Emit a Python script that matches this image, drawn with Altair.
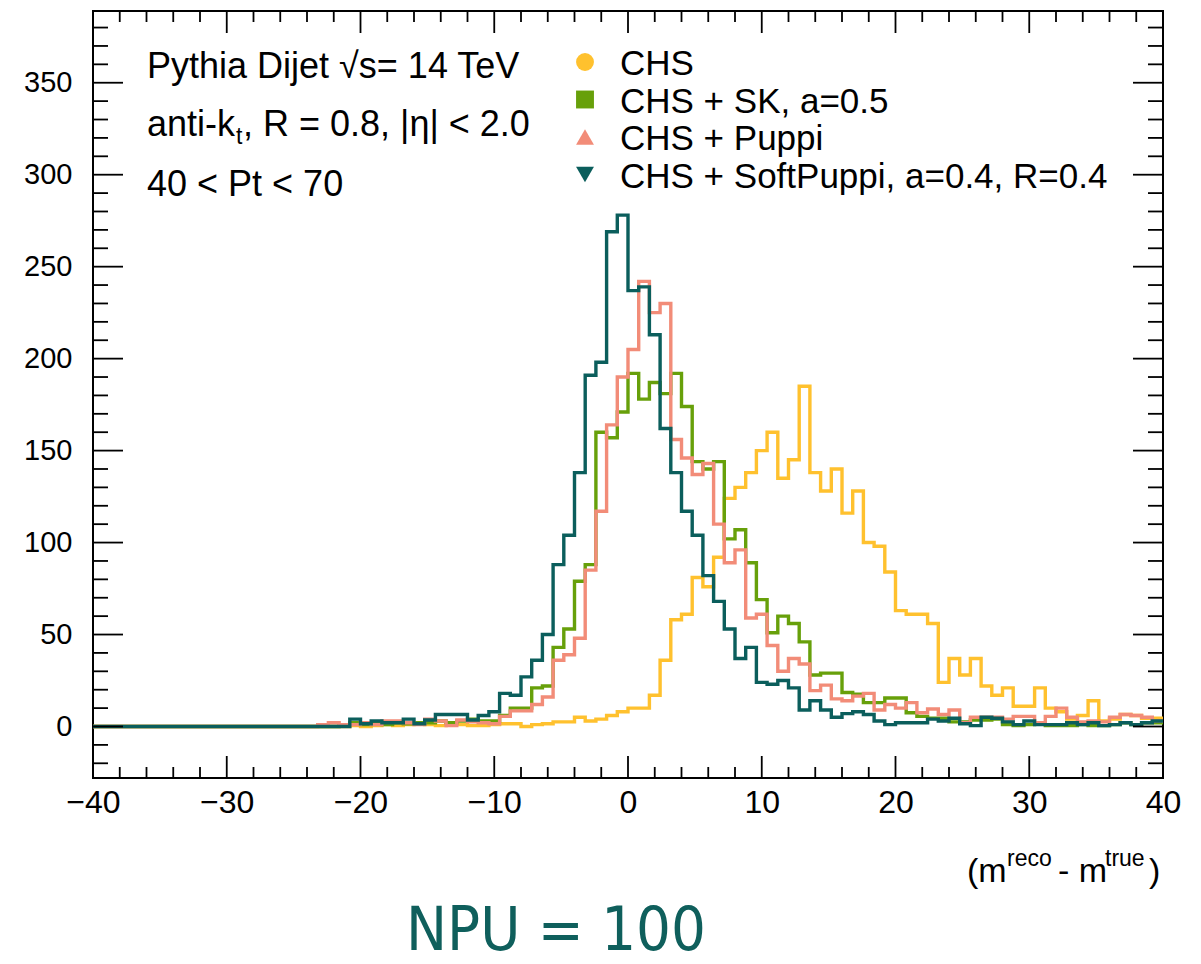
import altair as alt
import pandas as pd

# ---------------- data ----------------
X_MIN, X_MAX = -40.0, 40.0
BIN_WIDTH = 0.8
Y_MIN, Y_MAX = -28, 389

SERIES = ["CHS", "CHS + SK, a=0.5", "CHS + Puppi", "CHS + SoftPuppi, a=0.4, R=0.4"]
COLORS = ["#FFC12E", "#67A00A", "#F28C78", "#0B5E5C"]
SHAPES = ["circle", "square", "triangle-up", "triangle-down"]

CHS = [0, 0, 0, 0, 0, 0, 0, 0, 0, 0, 0, 0, 0, 0, 0, 0, 0, 0, 0, 0,
       0, 0, 0, 0, 0.5, 0, 0.5, 1, 0.5, 1, 1.5, 1, 0.5, 1, 1, 0.5, 0.5, 1, 1.5, 1.5,
       0, 1, 1.5, 2.5, 2.5, 5, 3, 4, 6, 8, 10, 10, 17, 36, 58, 61, 81, 76, 92, 124,
       130, 138, 150, 160, 135, 145, 185, 138, 128, 140, 116, 128, 100, 98, 84, 63, 61, 61, 56, 24,
       37, 28, 37, 22, 17, 21, 11, 11, 21, 10, 8, 4, 6, 14, 3, 4, 6.5, 6, 4.5, 4.5]

SK = [0, 0, 0, 0, 0, 0, 0, 0, 0, 0, 0, 0, 0, 0, 0, 0, 0, 0, 0, 0,
      0, 0, 0, 1, 2, 1, 1.5, 1, 2, 1.5, 2, 2, 3, 2, 3, 4, 3, 3, 6, 10,
      10, 21, 22, 43, 53, 79, 88, 160, 157, 171, 192, 178, 187, 181, 192, 174, 144, 140, 144, 102,
      107, 89, 69, 51, 60, 56, 46, 28, 29, 29, 18.5, 17.5, 13, 13, 15.5, 15.5, 7.5, 5.5, 4.5, 4.5,
      2.5, 2.5, 3.5, 3.5, 4, 1, 0.5, 1, 1.5, 0.5, 0.5, 0.5, 1, 0.5, 0.5, 1, 2, 1, 2, 2]

PUPPI = [0, 0, 0, 0, 0, 0, 0, 0, 0, 0, 0, 0, 0, 0, 0, 0, 0, 0, 0, 0,
         0, 1, 2, 1, 1, 2, 1, 3, 3, 2, 1, 4, 3, 0.5, 3.5, 2.5, 2, 1.5, 5.5, 8.5,
         8.5, 12, 16, 36, 39, 48, 85, 117, 164, 190, 205, 242, 225, 230, 156, 146, 137, 143, 110, 89,
         96, 59, 61, 44, 30, 37, 34, 19.5, 22.5, 15, 14, 16.5, 18, 9, 12, 10, 13, 7.5, 9.5, 6.5,
         9, 2, 5, 5, 5, 4, 5.5, 5.5, 2, 5.5, 10, 5, 2.5, 3, 2.5, 5, 6.5, 6, 5, 3]

SOFTPUPPI = [0, 0, 0, 0, 0, 0, 0, 0, 0, 0, 0, 0, 0, 0, 0, 0, 0, 0, 0, 0,
             0, 0, 0, 0, 4, 1.5, 3, 2, 2, 4, 1.5, 3.5, 6.5, 6.5, 6.5, 3.5, 6, 8, 18, 17,
             27, 36, 50, 88, 104, 138, 191, 198, 269, 278, 237, 239, 213, 162, 138, 117, 104, 82, 68, 53,
             37, 43, 24, 23, 25, 21, 9, 14, 9, 5, 7, 8, 6.5, 3, 1, 2, 2, 2, 4, 3,
             4.5, 1.5, 0.5, 5, 4.5, 2.5, 1, 3, 1, 1, 1, 2, 1, 2, 0.5, 1, 2, 1, 2, 3]

VALUES = [CHS, SK, PUPPI, SOFTPUPPI]

X_MAJOR = [-40, -30, -20, -10, 0, 10, 20, 30, 40]
Y_MAJOR = [0, 50, 100, 150, 200, 250, 300, 350]
X_MINOR = [v for v in range(-38, 40, 2) if v % 10 != 0]
Y_MINOR = [v for v in range(-20, 390, 10) if v % 50 != 0]

# ---------------- layout / style ----------------
W, H = 1070, 767
PAD_L, PAD_T = 93, 11
FONT = "Liberation Sans"
TXT = 36
LEG_TXT = 35

xscale = alt.Scale(domain=[X_MIN, X_MAX], nice=False, zero=False)
yscale = alt.Scale(domain=[Y_MIN, Y_MAX], nice=False, zero=False)
xaxis = alt.Axis(values=X_MAJOR, ticks=False, domain=False, grid=False,
                 labelFontSize=32, labelFont=FONT, labelColor="black",
                 labelPadding=9, labelFlush=False, labelOverlap=False, title=None)
yaxis = alt.Axis(values=Y_MAJOR, ticks=False, domain=False, grid=False,
                 labelFontSize=29, labelFont=FONT, labelColor="black",
                 labelPadding=21, labelFlush=False, labelOverlap=False, title=None)


def step_df(vals):
    xs = [X_MIN + BIN_WIDTH * i for i in range(len(vals))] + [X_MAX]
    ys = list(vals) + [vals[-1]]
    return pd.DataFrame({"x": xs, "y": ys})


layers = []

# histogram step lines (drawn in ROOT order)
for vals, col in zip(VALUES, COLORS):
    layers.append(
        alt.Chart(step_df(vals)).mark_line(interpolate="step-after", color=col, strokeWidth=3.4)
        .encode(x=alt.X("x:Q", scale=xscale, axis=xaxis),
                y=alt.Y("y:Q", scale=yscale, axis=yaxis))
    )


# inward ticks on all four sides
def xticks(vals, length):
    d = pd.DataFrame({"x": vals})
    bot = alt.Chart(d).mark_rule(color="black", strokeWidth=1.8).encode(
        x=alt.X("x:Q", scale=xscale, axis=xaxis), y=alt.value(H), y2=alt.value(H - length))
    top = alt.Chart(d).mark_rule(color="black", strokeWidth=1.8).encode(
        x=alt.X("x:Q", scale=xscale, axis=xaxis), y=alt.value(0), y2=alt.value(length))
    return [bot, top]


def yticks(vals, length):
    d = pd.DataFrame({"y": vals})
    left = alt.Chart(d).mark_rule(color="black", strokeWidth=1.8).encode(
        y=alt.Y("y:Q", scale=yscale, axis=yaxis), x=alt.value(0), x2=alt.value(length))
    right = alt.Chart(d).mark_rule(color="black", strokeWidth=1.8).encode(
        y=alt.Y("y:Q", scale=yscale, axis=yaxis), x=alt.value(W - length), x2=alt.value(W))
    return [left, right]


layers += xticks(X_MAJOR, 22) + xticks(X_MINOR, 11)
layers += yticks(Y_MAJOR, 30) + yticks(Y_MINOR, 15)

one = pd.DataFrame({"k": [0]})


def text(s, x, y, size=TXT, align="left", color="black", font=FONT, baseline="alphabetic"):
    return alt.Chart(one).mark_text(align=align, baseline=baseline, font=font,
                                    fontSize=size, color=color).encode(
        x=alt.value(x), y=alt.value(y), text=alt.value(s))


# annotation block (top-left)
TX0 = 147 - PAD_L
layers.append(text("Pythia Dijet √s= 14 TeV", TX0, 78 - PAD_T))
k_w = 2.445 * TXT  # width of "anti-k" in Helvetica/Liberation metrics
layers.append(text("anti-k", TX0, 136 - PAD_T))
layers.append(text("t", TX0 + k_w + 1, 144 - PAD_T, size=23))
layers.append(text(", R = 0.8, |η| < 2.0", TX0 + k_w + 8, 136 - PAD_T))
layers.append(text("40 < Pt < 70", TX0, 196 - PAD_T))

# legend
LEG_SYM_X = 585 - PAD_L
LEG_TXT_X = 620 - PAD_L
LEG_BASE0 = 75 - PAD_T
LEG_STEP = 37.5
for i, (name, col, shp) in enumerate(zip(SERIES, COLORS, SHAPES)):
    base = LEG_BASE0 + i * LEG_STEP
    layers.append(
        alt.Chart(one).mark_point(shape=shp, filled=True, color=col, opacity=1, size=320)
        .encode(x=alt.value(LEG_SYM_X), y=alt.value(base - 13))
    )
    layers.append(text(name, LEG_TXT_X, base, size=LEG_TXT))

# x-axis title (m^reco - m^true)
layers.append(text("(m", 967 - PAD_L, 882 - PAD_T, size=34))
layers.append(text("reco", 1007 - PAD_L, 866 - PAD_T, size=23))
layers.append(text("- m", 1058 - PAD_L, 882 - PAD_T, size=34))
layers.append(text("true", 1105 - PAD_L, 866 - PAD_T, size=23))
layers.append(text(")", 1149 - PAD_L, 882 - PAD_T, size=34))

# NPU = 100
layers.append(text("NPU = 100", 556 - PAD_L, 950 - PAD_T, size=61, align="center",
                   color="#0F5F5C", font="Liberation Sans Narrow, DejaVu Sans Condensed, sans-serif"))

chart = alt.layer(*layers).properties(
    width=W, height=H,
    autosize=alt.AutoSizeParams(type="none"),
    padding={"left": PAD_L, "top": PAD_T, "right": 1201 - PAD_L - W, "bottom": 964 - PAD_T - H},
    background="white",
).configure_view(stroke="black", strokeWidth=2)

chart.save("out.html", embed_options={"renderer": "svg", "actions": False})
